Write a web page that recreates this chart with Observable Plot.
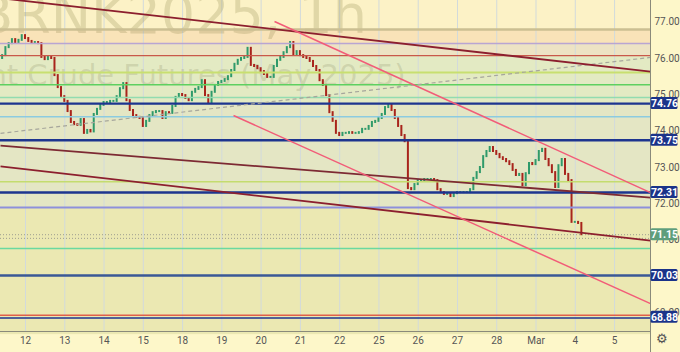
<!DOCTYPE html>
<html><head><meta charset="utf-8">
<script src="https://cdn.jsdelivr.net/npm/d3@7"></script>
<script src="https://cdn.jsdelivr.net/npm/@observablehq/plot@0.6"></script>
<style>
html,body{margin:0;padding:0;background:#fdf7c9;overflow:hidden;}
#chart svg{display:block;}
</style></head><body><div id="chart"></div>
<script>
// ---- data ----
const dayLabels = ["12","13","14","15","18","19","20","21","22","25","26","27","28","Mar","4","5"];
const priceTicks = [77,76,75,74,73,72,71,69];
const firstTime = -0.596;          // day index of first 2h candle
const candleStep = 1/12;           // 2 hours in day units
const firstOpen = 76.00;
const closes = [
76.08,76.30,76.41,76.52,76.44,76.50,76.63,76.55,76.47,76.44,76.44,76.41,
76.03,75.97,76.03,76.00,75.53,75.20,74.95,74.82,74.54,74.24,74.18,74.16,
74.32,73.94,74.02,73.98,74.46,74.60,74.71,74.79,74.79,74.82,74.82,74.95,
75.17,75.31,74.84,74.57,74.43,74.38,74.35,74.13,74.27,74.43,74.51,74.54,
74.54,74.35,74.51,74.49,74.68,74.93,75.01,74.98,74.90,74.84,75.07,75.15,
75.20,75.39,74.98,74.76,75.07,75.26,75.34,75.37,75.42,75.50,75.67,75.84,
75.95,76.00,76.03,76.28,75.81,75.78,75.72,75.64,75.56,75.48,75.48,75.78,
75.95,76.03,76.16,76.30,76.44,76.11,76.19,76.08,76.03,76.00,75.92,75.78,
75.67,75.39,75.26,74.98,74.51,74.27,73.94,73.88,73.94,73.94,73.96,73.94,
73.94,73.96,74.05,74.05,74.13,74.24,74.27,74.35,74.46,74.65,74.71,74.57,
74.35,74.13,73.88,73.71,72.42,72.39,72.53,72.64,72.64,72.67,72.67,72.67,
72.64,72.39,72.31,72.26,72.28,72.20,72.28,72.31,72.31,72.31,72.31,72.39,
72.70,72.86,73.00,73.30,73.44,73.55,73.44,73.36,73.27,73.22,73.16,73.08,
72.92,72.78,72.81,72.50,72.83,73.11,73.08,73.19,73.44,73.50,73.22,73.05,
72.86,72.45,73.05,73.22,72.81,72.64,71.49,71.49,71.46,71.15
];
const levelPrices = [76.80,76.41,76.08,75.615,75.28,74.93,74.76,74.40,73.75,72.61,72.31,71.90,70.77,70.03,68.93,68.86];
const levelColors = ["#cbbf92","#b9a5d2","#c9584a","#c8df70","#5ed060","#92dcb0","#1d358f","#8ccbe0","#1d358f","#c4dc6e","#1d358f","#8d90dc","#6ad9a0","#3a5896","#e0604a","#1d358f"];
const levelWidths = [2.5,1.5,1.2,2,1.5,1.5,2.2,1.5,2.5,1.5,2.5,2,1.5,2.5,1.5,1.5];
const dottedPrices = [71.15,71.05];
const badgePrices = [74.76,73.75,72.31,71.15,70.03,68.88];
const badgeColors = ["#1b3389","#1b3389","#1b3389","#5e9e7c","#1b3389","#1b3389"];
const bandTops    = [77.60,76.80,76.41,76.08,74.76,71.90];
const bandBottoms = [76.80,76.41,76.08,74.76,71.90,68.40];
const bandFills   = ["#fcf2c6","#f9e3b8","#ede3c4","#e3eac3","#e4e6c4","#ebe8b2"];
const solidLines = [
  {t1:-0.637,p1:77.66,t2:15.915,p2:75.64,color:"#8c1f2e",w:1.8},
  {t1:-0.637,p1:73.60,t2:15.915,p2:72.17,color:"#7d2a33",w:1.8},
  {t1:-0.637,p1:73.03,t2:15.915,p2:70.99,color:"#8c1f2e",w:1.8},
  {t1:6.341,p1:77.02,t2:15.915,p2:72.31,color:"#f25c78",w:1.5},
  {t1:5.297,p1:74.43,t2:15.915,p2:69.255,color:"#f25c78",w:1.5}
];
const dashedLines = [{t1:-0.637,p1:73.94,t2:15.915,p2:76.03}];
const watermarkTitle = "BRNK2025, 1h";
const watermarkSubtitle = "Brent Crude Futures (May 2025)";

// ---- layout ----
const W = 680, H = 352;
const xDomain = [-0.637, 15.915];
const yDomain = [68.486, 77.597];
const candles = closes.map((c,i)=>({t:firstTime+i*candleStep, open:i?closes[i-1]:firstOpen, close:c}));
const levels = levelPrices.map((p,i)=>({p, color:levelColors[i], w:levelWidths[i]}));
const bands = bandFills.map((f,i)=>({top:bandTops[i], bottom:bandBottoms[i], fill:f}));
const badges = badgePrices.map((p,i)=>({p, color:badgeColors[i], label:p.toFixed(2)}));

const chart = Plot.plot({
  width: W, height: H,
  marginLeft: 0, marginRight: 30, marginTop: 0, marginBottom: 21,
  x: {domain: xDomain},
  y: {domain: yDomain},
  color: {type: "identity"},
  style: {background: "#fdf7c9", fontFamily: "Roboto, 'Liberation Sans', sans-serif", color: "#555", overflow: "hidden"},
  marks: [
    Plot.rect(bands, {x1: xDomain[0], x2: xDomain[1], y1: "bottom", y2: "top", fill: "fill"}),
    Plot.ruleX(d3.range(dayLabels.length), {stroke: "#d2dadb", strokeWidth: 1}),
    Plot.text([watermarkTitle], {frameAnchor: "top-left", dx: 171, dy: 32, lineAnchor: "bottom", textAnchor: "middle", fontSize: 54, fill: "rgba(140,128,70,0.24)", fontFamily: "'DejaVu Sans', sans-serif"}),
    Plot.text([watermarkSubtitle], {frameAnchor: "top-left", dx: 172, dy: 84, lineAnchor: "bottom", textAnchor: "middle", fontSize: 29, fill: "rgba(120,120,80,0.2)", fontFamily: "'DejaVu Sans', sans-serif"}),
    Plot.ruleX(candles, {x: "t", y1: "open", y2: "close", stroke: d => d.close >= d.open ? "#2f9a6a" : "#a8241c", strokeWidth: 2, strokeLinecap: "square"}),
    Plot.ruleY(levels, {y: "p", stroke: "color", strokeWidth: "w"}),
    Plot.ruleY(dottedPrices, {stroke: "#9c9c90", strokeWidth: 1, strokeDasharray: "1,2"}),
    Plot.link(dashedLines, {x1: "t1", y1: "p1", x2: "t2", y2: "p2", stroke: "#a6a69c", strokeWidth: 1.2, strokeDasharray: "4,3"}),
    Plot.link(solidLines, {x1: "t1", y1: "p1", x2: "t2", y2: "p2", stroke: "color", strokeWidth: "w"}),
    Plot.ruleY([yDomain[0]], {stroke: "#8a8a7a", strokeWidth: 1}),
    Plot.ruleX([xDomain[1]], {y1: yDomain[0] - 0.6, y2: yDomain[1], stroke: "#8a8a7a", strokeWidth: 1}),
    Plot.axisX(d3.range(dayLabels.length), {tickFormat: i => dayLabels[i], tickSize: 0, tickPadding: 5, fontSize: 10, fill: "#555"}),
    Plot.axisY(priceTicks, {anchor: "right", tickSize: 0, tickPadding: 4, tickFormat: d => d.toFixed(2), fontSize: 10, fill: "#555"}),
    Plot.rect(badges, {x1: xDomain[1] + 0.015, x2: xDomain[1] + 0.7, y1: d => d.p - 0.165, y2: d => d.p + 0.165, fill: "color", rx: 1.5}),
    Plot.text(badges, {x: xDomain[1] + 0.357, y: "p", text: "label", fill: "#ffffff", fontWeight: "bold", fontSize: 10.5}),
    Plot.text(["\u2699"], {frameAnchor: "bottom-right", dx: 17, dy: 11, fontSize: 13, fill: "#555"})
  ]
});
document.getElementById("chart").appendChild(chart);
</script>
</body></html>
